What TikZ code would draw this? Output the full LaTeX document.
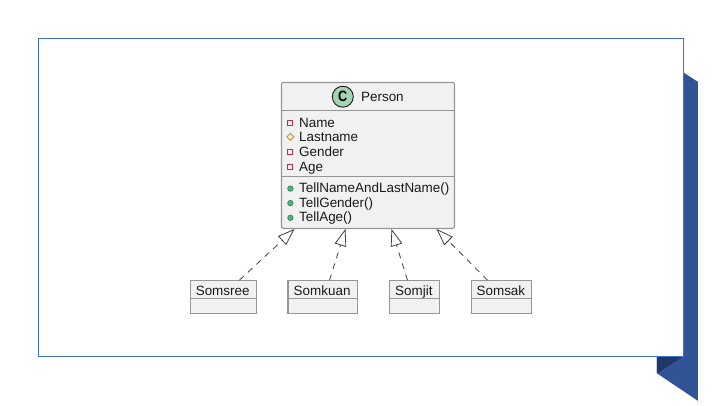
\documentclass[tikz,border=0pt]{standalone}
\usepackage{fontspec}
\setmainfont{Liberation Sans}
\usetikzlibrary{arrows.meta,calc}
\definecolor{frameblue}{RGB}{58,112,206}
\definecolor{ribbon}{RGB}{48,84,150}
\definecolor{ribbondark}{RGB}{31,56,100}
\definecolor{boxfill}{RGB}{241,241,241}
\definecolor{boxline}{RGB}{150,150,150}
\definecolor{headgreen}{RGB}{165,212,178}
\definecolor{headline}{RGB}{24,24,24}
\definecolor{privred}{RGB}{205,40,70}
\definecolor{protorange}{RGB}{195,145,50}
\definecolor{pubgreen}{RGB}{85,175,120}
\definecolor{publine}{RGB}{30,135,85}
\tikzset{
  x=1pt,y=-1pt,
  classbox/.style={draw=boxline,fill=boxfill,line width=1.2pt,inner sep=0pt,anchor=north west},
  label text/.style={font=\fontsize{13.45}{15}\selectfont,text=black!90,inner sep=0pt,anchor=base west,yshift=-0.5pt},
  small text/.style={font=\fontsize{13.45}{15}\selectfont,text=black!90,inner sep=0pt,anchor=base,yshift=-0.5pt},
  sepline/.style={draw=boxline,line width=1.2pt},
  realize/.style={draw=black!75,line width=0.8pt,dash pattern=on 6pt off 5.5pt,
    -{Triangle[open,length=17pt,width=12pt,line width=0.8pt,fill=white]}},
  privmark/.style={draw=privred,line width=0.9pt,fill=none,minimum size=5pt,inner sep=0pt},
  protmark/.style={draw=protorange,line width=0.9pt,fill=none},
  pubmark/.style={circle,draw=publine,line width=0.6pt,fill=pubgreen,minimum size=5.5pt,inner sep=0pt},
}
\begin{document}
\begin{tikzpicture}
\useasboundingbox (0,0) rectangle (720,405);
\fill[white] (0,0) rectangle (720,405);
\begin{scope}[shift={(-0.1,-0.2)}]
% ribbon
\fill[ribbon] (684,73) -- (698,82) -- (698,401) -- (657,373.5) -- (657,357) -- (684,357) -- cycle;
\fill[ribbondark] (657,357) -- (683,357) -- (657,373.5) -- cycle;
% frame
\draw[frameblue,line width=1pt,fill=white] (38.5,38.5) rectangle (684,356.5);
% class
\node[classbox,rounded corners=2pt,minimum width=173pt,minimum height=146pt] (person) at (281,82) {};
\draw[sepline] (281,110.7) -- (454,110.7);
\draw[sepline] (281,176.7) -- (454,176.7);
\node[circle,draw=headline,line width=0.9pt,fill=headgreen,minimum size=21pt,inner sep=0pt] (cmark) at (342.9,96.9) {};
\node[font=\fontsize{15}{15}\bfseries\selectfont,inner sep=0pt,text=black,xscale=0.85] (cletter) at (342.9,96.9) {C};
\node[label text] (ptitle) at (361,101.3) {Person};
% members
\node[privmark] (m1) at (290.5,123) {};
\node[label text] (t1) at (299,127) {Name};
\draw[protmark] (290.5,133.5) -- (294,137) -- (290.5,140.5) -- (287,137) -- cycle;
\node[label text] (t2) at (299,141) {Lastname};
\node[privmark] (m3) at (290.5,152.3) {};
\node[label text] (t3) at (299,156) {Gender};
\node[privmark] (m4) at (290.5,167) {};
\node[label text] (t4) at (299,171) {Age};
\node[pubmark] (m5) at (290.5,188.8) {};
\node[label text] (t5) at (299,192.3) {TellNameAndLastName()};
\node[pubmark] (m6) at (290.5,203.3) {};
\node[label text] (t6) at (299,207) {TellGender()};
\node[pubmark] (m7) at (290.5,218) {};
\node[label text] (t7) at (299,221.3) {TellAge()};
% small classes
\node[classbox,minimum width=66pt,minimum height=32.5pt] (somsree) at (189.8,280.3) {};
\draw[sepline] (189.8,298.7) -- (255.8,298.7);
\node[small text] (l1) at (222.8,295) {Somsree};
\node[classbox,minimum width=69.5pt,minimum height=32.5pt] (somkuan) at (287.5,280.3) {};
\draw[sepline] (287.5,298.7) -- (357,298.7);
\node[small text] (l2) at (322.2,295) {Somkuan};
\node[classbox,minimum width=50.5pt,minimum height=32.5pt] (somjit) at (388.7,280.3) {};
\draw[sepline] (388.7,298.7) -- (439.2,298.7);
\node[small text] (l3) at (414,295) {Somjit};
\node[classbox,minimum width=60pt,minimum height=32.5pt] (somsak) at (471,280.3) {};
\draw[sepline] (471,298.7) -- (531,298.7);
\node[small text] (l4) at (501,295) {Somsak};
% connectors
\draw[realize] ([xshift=16.2pt]somsree.north) -- ([xshift=-73.5pt]person.south);
\draw[realize] ([xshift=6.8pt]somkuan.north) -- ([xshift=-22.5pt]person.south);
\draw[realize] ([xshift=-7pt]somjit.north) -- ([xshift=23.5pt]person.south);
\draw[realize] ([xshift=-14pt]somsak.north) -- ([xshift=68.5pt]person.south);
\end{scope}
\end{tikzpicture}
\end{document}
